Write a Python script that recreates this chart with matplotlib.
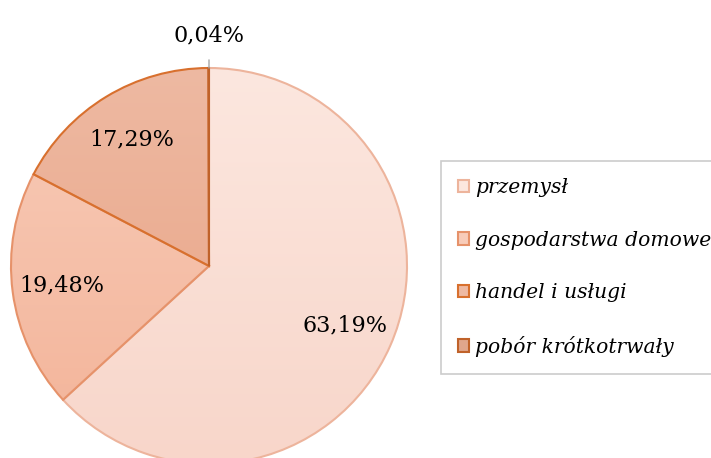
import numpy as np
import matplotlib.pyplot as plt
from matplotlib.patches import Patch
from matplotlib.colors import LinearSegmentedColormap

categories = ['przemysł', 'gospodarstwa domowe', 'handel i usługi', 'pobór krótkotrwały']
shares = [63.19, 19.48, 17.29, 0.04]
labels = ['63,19%', '19,48%', '17,29%', '0,04%']

# (top colour, bottom colour, edge colour) for each slice
fills = [('#fce7df', '#f8d6ca', '#edb49c'),
         ('#f8ccb9', '#f3b398', '#e6926a'),
         ('#eeb9a2', '#e8a283', '#d8702e'),
         ('#e0a68c', '#d28a6c', '#c0622a')]

W, H = 711, 458
fig = plt.figure(figsize=(W / 100, H / 100), dpi=100)
ax = fig.add_axes([0, 0, 1, 1])

cx, cy, R = 209, 192, 198
wedges, _ = ax.pie(shares, startangle=90, counterclock=False,
                   center=(cx, cy), radius=R,
                   wedgeprops=dict(linewidth=1.5))
ax.set_aspect('equal')
ax.axis('off')

grad = np.linspace(0, 1, 256).reshape(-1, 1)
for w, (top, bot, edge) in zip(wedges, fills):
    w.set_facecolor('none')
    w.set_edgecolor(edge)
    w.set_zorder(3)
    cmap = LinearSegmentedColormap.from_list('g', [top, bot])
    im = ax.imshow(grad, cmap=cmap, aspect='auto', zorder=2,
                   extent=(cx - R, cx + R, cy - R, cy + R), origin='upper')
    im.set_clip_path(w)
ax.set_xlim(0, W)
ax.set_ylim(0, H)

font = 'DejaVu Serif'
for w, lab, val in zip(wedges, labels, shares):
    mid = np.deg2rad((w.theta1 + w.theta2) / 2)
    if val < 1:
        ax.annotate(lab, xy=(cx, cy + R), xytext=(cx, cy + R + 27),
                    ha='center', va='baseline', fontsize=16, family=font,
                    arrowprops=dict(arrowstyle='-', color='#a6a6a6', lw=1,
                                    shrinkA=8, shrinkB=0))
    else:
        ax.text(cx + 0.75 * R * np.cos(mid), cy + 0.75 * R * np.sin(mid), lab,
                ha='center', va='center', fontsize=16, family=font, zorder=5)

handles = [Patch(facecolor=top, edgecolor=edge, linewidth=1.5)
           for top, bot, edge in fills]
leg = fig.legend(handles, categories, loc='upper left',
                 bbox_to_anchor=(441 / W, 1 - 161 / H), borderaxespad=0,
                 frameon=True, fancybox=False, edgecolor='#bfbfbf',
                 prop=dict(family=font, style='italic', size=14.6),
                 handlelength=0.55, handleheight=0.55, handletextpad=0.3,
                 labelspacing=1.65, borderpad=0.85)
leg.get_frame().set_linewidth(1.2)

plt.savefig('out.png', dpi=100)
